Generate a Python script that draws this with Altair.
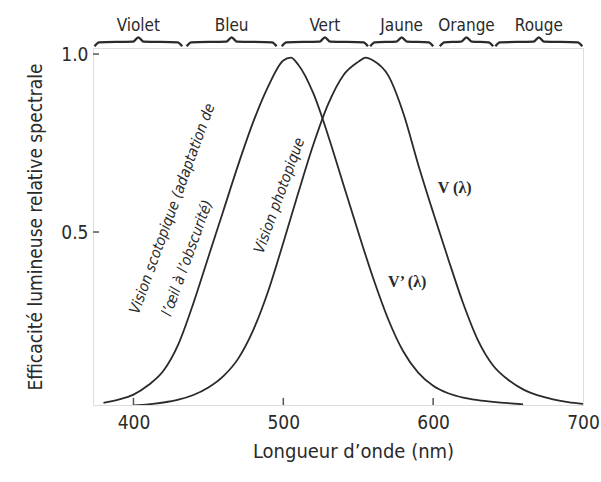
import altair as alt
import pandas as pd

# Scotopic curve V'(lambda)
sco_wl = [380, 390, 400, 410, 420, 430, 440, 450, 460, 470, 480, 490, 500, 505, 510,
          520, 530, 540, 550, 560, 570, 580, 590, 600, 610, 620, 630, 640, 650, 660]
sco_val = [0.02, 0.029, 0.043, 0.07, 0.11, 0.185, 0.30, 0.43, 0.56, 0.69, 0.81, 0.91,
           0.982, 0.99, 0.97, 0.89, 0.77, 0.635, 0.5, 0.37, 0.255, 0.165, 0.105, 0.068,
           0.047, 0.035, 0.028, 0.023, 0.019, 0.016]

# Photopic curve V(lambda)
pho_wl = [400, 410, 420, 430, 440, 450, 460, 470, 480, 490, 500, 510, 520, 530, 540,
          550, 555, 560, 570, 580, 590, 600, 610, 620, 630, 640, 650, 660, 670, 680, 690, 700]
pho_val = [0.013, 0.016, 0.021, 0.029, 0.042, 0.063, 0.095, 0.145, 0.225, 0.335, 0.47,
           0.61, 0.745, 0.86, 0.94, 0.978, 0.99, 0.982, 0.94, 0.835, 0.69, 0.555, 0.425,
           0.30, 0.195, 0.125, 0.085, 0.058, 0.041, 0.03, 0.022, 0.017]

# Colour bands across the top
band_names = ["Violet", "Bleu", "Vert", "Jaune", "Orange", "Rouge"]
band_start = [374, 435.5, 499, 558, 604.5, 641.5]
band_end = [432.5, 495.5, 556.5, 600, 640, 699.5]

# Axis ticks
x_ticks = [400, 500, 600, 700]
x_inner_ticks = [400, 500, 600]
y_ticks = [0.5, 1.0]

# Annotations
ann_text = ["Vision scotopique (adaptation de", "l\u2019\u0153il \u00e0 l\u2019obscurit\u00e9)",
            "Vision photopique"]
ann_nm = [425.7, 435.7, 497.2]
ann_val = [0.566, 0.427, 0.603]
curve_lab = ["V (\u03bb)", "V\u2019 (\u03bb)"]
curve_lab_nm = [614.4, 582.7]
curve_lab_val = [0.624, 0.36]

X_DOM = [373, 700]
Y_DOM = [0.014, 1.017]
FONT = "DejaVu Sans Condensed, Liberation Sans Narrow, Noto Sans, sans-serif"
INK = "#2a2a2a"

xs = alt.Scale(domain=X_DOM, nice=False, zero=False)
ys = alt.Scale(domain=Y_DOM, nice=False, zero=False)
xaxis = alt.Axis(values=x_ticks, ticks=False, domain=False, grid=False, labelFlush=False,
                 labelFontSize=19, labelPadding=8, labelColor=INK, labelFont=FONT,
                 title="Longueur d\u2019onde (nm)", titleFontSize=20, titleFont=FONT,
                 titleColor=INK, titleFontWeight="normal", titlePadding=9, titleX=260)
yaxis = alt.Axis(values=y_ticks, format=".1f", ticks=False, domain=False, grid=False,
                 labelFlush=False, labelFontSize=19, labelPadding=5, labelColor=INK,
                 labelFont=FONT, title="Efficacit\u00e9 lumineuse relative spectrale",
                 titleFontSize=19, titleFont=FONT, titleColor=INK,
                 titleFontWeight="normal", titlePadding=15)


def X(f):
    return alt.X(f, type="quantitative", scale=xs, axis=xaxis)


def Y(f):
    return alt.Y(f, type="quantitative", scale=ys, axis=yaxis)


curves = pd.concat([
    pd.DataFrame({"nm": sco_wl, "val": sco_val, "curve": "scotopique"}),
    pd.DataFrame({"nm": pho_wl, "val": pho_val, "curve": "photopique"}),
])

lines = alt.Chart(curves).mark_line(color=INK, strokeWidth=1.8, interpolate="monotone",
                                    clip=True).encode(
    x=X("nm"), y=Y("val"), detail="curve:N")

# braces built from band ranges
rows = []
for n, a, b in zip(band_names, band_start, band_end):
    m = (a + b) / 2
    pts = [(a, 1.022), (a + 3, 1.033), (m - 3.5, 1.035), (m, 1.047),
           (m + 3.5, 1.035), (b - 3, 1.033), (b, 1.022)]
    for i, (px, py) in enumerate(pts):
        rows.append({"band": n, "bx": px, "by": py, "o": i})
braces_df = pd.DataFrame(rows)
braces = alt.Chart(braces_df).mark_line(color=INK, strokeWidth=2.3, interpolate="monotone",
                                        clip=False).encode(
    x=X("bx"), y=Y("by"), detail="band:N", order="o:Q")

band_df = pd.DataFrame({"band": band_names,
                        "mid": [(a + b) / 2 for a, b in zip(band_start, band_end)],
                        "ly": [1.08] * len(band_names)})
band_text = alt.Chart(band_df).mark_text(font=FONT, fontSize=17, color=INK,
                                         baseline="middle", clip=False).encode(
    x=X("mid"), y=Y("ly"), text="band:N")

# inner ticks
xt_df = pd.DataFrame({"t": x_inner_ticks, "y0": [Y_DOM[0]] * 3, "y1": [Y_DOM[0] + 0.02] * 3})
xt = alt.Chart(xt_df).mark_rule(color="#555", strokeWidth=1.5).encode(
    x=X("t"), y=Y("y0"), y2="y1")
yt_df = pd.DataFrame({"t": y_ticks, "x0": [X_DOM[0]] * 2, "x1": [X_DOM[0] + 4] * 2})
yt = alt.Chart(yt_df).mark_rule(color="#555", strokeWidth=1.5).encode(
    y=Y("t"), x=X("x0"), x2="x1")

ann_df = pd.DataFrame({"t": ann_text, "nm": ann_nm, "val": ann_val})
ann = alt.Chart(ann_df).mark_text(font=FONT, fontSize=15, fontStyle="italic", color=INK,
                                  angle=290, baseline="middle", align="center").encode(
    x=X("nm"), y=Y("val"), text="t:N")

cl_df = pd.DataFrame({"t": curve_lab, "nm": curve_lab_nm, "val": curve_lab_val})
cl = alt.Chart(cl_df).mark_text(font="Liberation Serif", fontSize=16, color=INK,
                                fontWeight="bold", baseline="middle", align="center").encode(
    x=X("nm"), y=Y("val"), text="t:N")

chart = alt.layer(lines, braces, band_text, xt, yt, ann, cl).properties(
    width=490, height=357,
    autosize=alt.AutoSizeParams(type="none"),
    padding={"left": 93, "top": 48, "right": 18, "bottom": 77},
).configure_view(stroke="#8a8a8a", strokeWidth=1.5).configure(background="white")

chart.save("out.html", embed_options={"renderer": "svg", "actions": False})
